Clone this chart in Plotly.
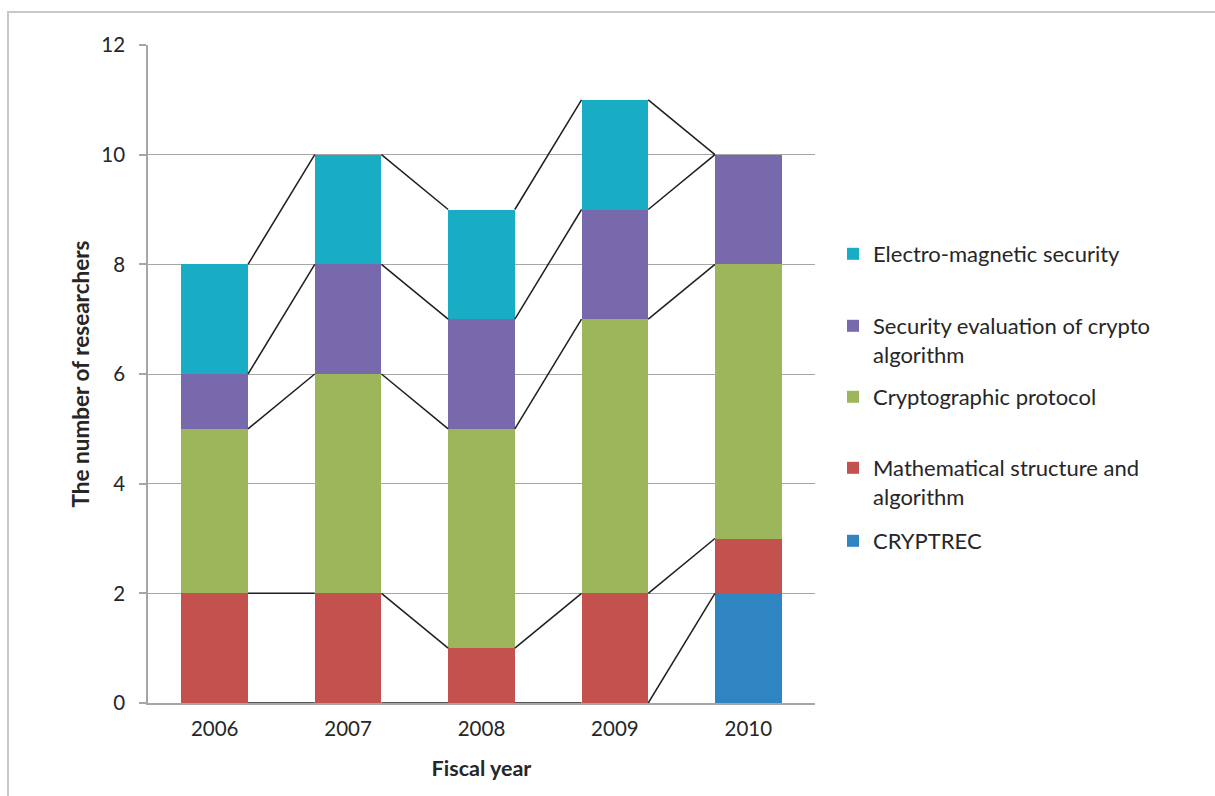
import plotly.graph_objects as go
import numpy as np

years = ["2006", "2007", "2008", "2009", "2010"]
cryptrec = [0, 0, 0, 0, 2]
math_struct = [2, 2, 1, 2, 1]
crypto_protocol = [3, 4, 4, 5, 5]
security_eval = [1, 2, 2, 2, 2]
em_security = [2, 2, 2, 2, 0]

series_names = ["CRYPTREC", "Mathematical structure and<br>algorithm", "Cryptographic protocol",
                "Security evaluation of crypto<br>algorithm", "Electro-magnetic security"]
series_vals = [cryptrec, math_struct, crypto_protocol, security_eval, em_security]
bar_colors = ["#2F85C1", "#C3524F", "#9EB65B", "#7769AB", "#19ACC5"]
legend_ids = ["legend5", "legend4", "legend3", "legend2", "legend"]

W, H = 1215, 796
L, R, T, B = 148, 815, 45, 703
pw, ph = R - L, B - T

def px2x(px):
    return (px - L) / pw

def py2y(py):
    return (B - py) / ph

xs = list(range(len(years)))
bw = 0.5
fig = go.Figure()

# series lines (connect cumulative tops between bars)
cum = np.cumsum(np.array(series_vals), axis=0)
for i in range(len(series_vals)):
    for j in range(len(years) - 1):
        fig.add_trace(go.Scatter(
            x=[xs[j] + bw / 2, xs[j + 1] - bw / 2],
            y=[cum[i][j], cum[i][j + 1]],
            mode="lines", line=dict(color="#1E1E1E", width=1.5),
            showlegend=False, hoverinfo="skip"))

for name, vals, col, lg in zip(series_names, series_vals, bar_colors, legend_ids):
    fig.add_trace(go.Bar(x=xs, y=vals, name=name, width=bw,
                         marker=dict(color=col, line=dict(width=0)),
                         legend=lg))

font_family = "Lato, 'Open Sans', sans-serif"
txt_color = "#262626"

legend_first_line_y = {"legend": 254, "legend2": 326, "legend3": 397, "legend4": 468, "legend5": 541}
legend_layouts = {}
for lg, yc in legend_first_line_y.items():
    legend_layouts[lg] = dict(
        x=px2x(833), y=py2y(yc - 21), xanchor="left", yanchor="top",
        font=dict(family=font_family, size=22, color=txt_color),
        valign="top", bgcolor="rgba(0,0,0,0)", borderwidth=0,
        itemclick=False, itemdoubleclick=False)

fig.update_layout(
    width=W, height=H,
    margin=dict(l=L, r=W - R, t=T, b=H - B, pad=0),
    paper_bgcolor="white", plot_bgcolor="white",
    barmode="stack", showlegend=True,
    font=dict(family=font_family, size=20.5, color=txt_color),
    xaxis=dict(range=[-0.5, 4.5], tickvals=xs, ticktext=years, showgrid=False,
               showline=True, linecolor="#A6A6A6", linewidth=2, ticks="",
               tickfont=dict(size=20.5, color=txt_color), ticklabelstandoff=6,
               title=dict(text="<b>Fiscal year</b>", font=dict(size=21.5, color=txt_color), standoff=22),
               zeroline=False, fixedrange=True),
    yaxis=dict(range=[0, 12], dtick=2, showgrid=True, gridcolor="#A6A6A6", gridwidth=1,
               showline=True, linecolor="#A6A6A6", linewidth=1.5,
               ticks="outside", ticklen=7, tickcolor="#A6A6A6", tickwidth=1.5,
               tickfont=dict(size=20.5, color=txt_color), ticklabelstandoff=10,
               title=dict(text="<b>The number of researchers</b>", font=dict(size=22.5, color=txt_color), standoff=5),
               zeroline=False, fixedrange=True),
    **legend_layouts,
)

# outer chart border
fig.add_shape(type="rect", xref="paper", yref="paper",
              x0=px2x(8), x1=px2x(1230), y0=py2y(820), y1=py2y(12),
              line=dict(color="#C8C8C8", width=2), fillcolor="rgba(0,0,0,0)", layer="below")

fig.write_html("out.html")
